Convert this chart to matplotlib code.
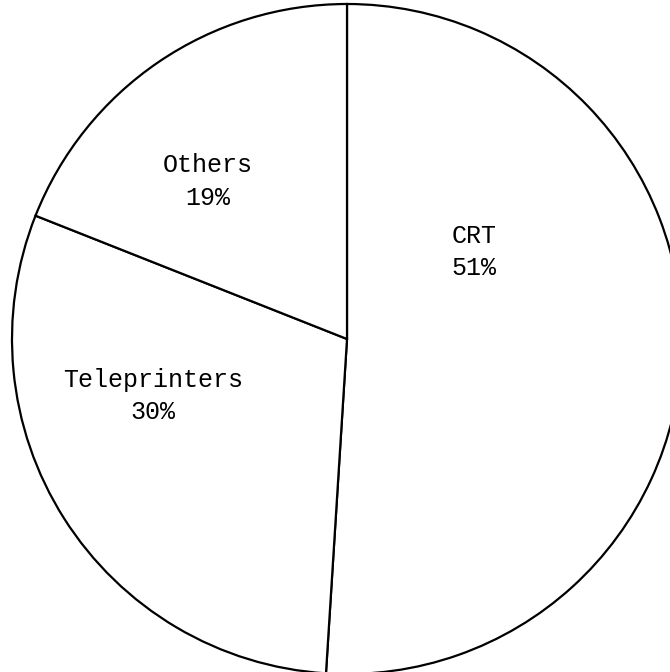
import matplotlib.pyplot as plt

# Data

categories = ["CRT", "Teleprinters", "Others"]
shares = [51, 30, 19]

# label centres in pie units (radius = 1)
label_pos = [(0.38, 0.26), (-0.58, -0.17), (-0.415, 0.47)]


# Figure

fig = plt.figure(figsize=(6.7, 6.72), dpi=100)
ax = fig.add_axes([0, 0, 1, 1])

ax.pie(
    shares,
    startangle=90,
    counterclock=False,
    colors=["white"] * len(shares),
    radius=1.0,
    wedgeprops={"edgecolor": "black", "linewidth": 1.6},
)

for name, val, (x, y) in zip(categories, shares, label_pos):
    ax.text(x, y, f"{name}\n{val}%", ha="center", va="center",
            fontsize=18, family="Liberation Mono", linespacing=1.45,
            color="black")

ax.set_aspect("auto")
ax.set_xlim(-347 / 335, 323 / 335)
ax.set_ylim(-333 / 335, 339 / 335)
ax.axis("off")

fig.savefig("out.png", dpi=100)
